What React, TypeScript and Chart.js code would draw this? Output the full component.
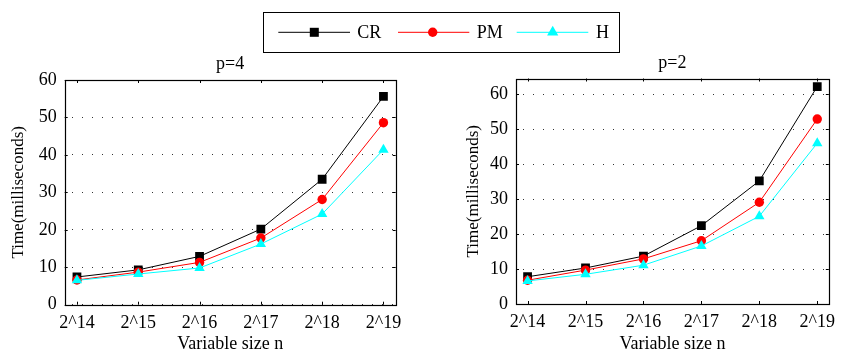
import React, { useEffect, useRef } from "react";
import { Chart, registerables } from "chart.js";

Chart.register(...registerables);

const FONT = "'Liberation Serif', 'Times New Roman', Times, serif";

const X_LABELS = ["2^14", "2^15", "2^16", "2^17", "2^18", "2^19"];
const SERIES_NAMES = ["CR", "PM", "H"];
const Y_TICKS = [0, 10, 20, 30, 40, 50, 60];

// p=4
const P4_CR = [7.4, 9.3, 12.9, 20.2, 33.5, 55.6];
const P4_PM = [6.6, 8.7, 11.3, 17.8, 28.1, 48.6];
const P4_H = [6.5, 8.2, 9.8, 16.2, 24.2, 41.4];

// p=2
const P2_CR = [7.8, 10.3, 13.7, 22.4, 35.2, 62.2];
const P2_PM = [6.8, 9.7, 12.9, 18.1, 29.1, 52.9];
const P2_H = [6.6, 8.5, 11.1, 16.6, 25.1, 46.0];

const COLORS = ["#000000", "#ff0000", "#00ffff"];
const STYLES = ["rect", "circle", "triangle"];
const RADII = [6.2, 4.7, 6];

Chart.defaults.font.family = FONT;

const framePlugin = {
  id: "frame",
  beforeDatasetsDraw(chart: any) {
    const { ctx, chartArea } = chart;
    const { left, right, top, bottom } = chartArea;
    const xs = chart.scales.x;
    const ys = chart.scales.y;
    ctx.save();
    ctx.strokeStyle = "#000";
    ctx.lineWidth = 1;
    ctx.beginPath();
    X_LABELS.forEach((_, i) => {
      const px = Math.round(xs.getPixelForValue(i)) + 0.5;
      ctx.moveTo(px, bottom);
      ctx.lineTo(px, bottom - 3);
      ctx.moveTo(px, top);
      ctx.lineTo(px, top + 3);
    });
    Y_TICKS.forEach((v) => {
      const py = Math.round(ys.getPixelForValue(v)) + 0.5;
      ctx.moveTo(left, py);
      ctx.lineTo(left + 3, py);
      ctx.moveTo(right, py);
      ctx.lineTo(right - 3, py);
    });
    ctx.stroke();
    ctx.lineWidth = 1.2;
    ctx.strokeRect(
      Math.round(left) + 0.5,
      Math.round(top) + 0.5,
      Math.round(right) - Math.round(left),
      Math.round(bottom) - Math.round(top)
    );
    ctx.restore();
  },
};

function makeConfig(
  title: string,
  series: number[][],
  yMax: number,
  o: {
    yWidth: number;
    xHeight: number;
    padRight: number;
    titleTop: number;
    titleBottom: number;
    yTitlePad: number;
  }
): any {
  return {
    type: "line",
    data: {
      datasets: series.map((vals, k) => ({
        label: SERIES_NAMES[k],
        data: vals.map((y, i) => ({ x: i, y })),
        borderColor: COLORS[k],
        backgroundColor: COLORS[k],
        borderWidth: 1,
        pointStyle: STYLES[k],
        pointRadius: RADII[k],
        pointBorderWidth: 0,
        pointBackgroundColor: COLORS[k],
        tension: 0,
        fill: false,
        order: 2 - k,
      })),
    },
    options: {
      responsive: false,
      animation: false,
      devicePixelRatio: 1,
      layout: { padding: { left: 0, right: o.padRight, top: 0, bottom: 0 } },
      plugins: {
        legend: { display: false },
        tooltip: { enabled: false },
        title: {
          display: true,
          text: title,
          fullSize: false,
          color: "#000",
          font: { family: FONT, size: 18, weight: "normal", lineHeight: 1 },
          padding: { top: o.titleTop, bottom: o.titleBottom },
        },
      },
      scales: {
        x: {
          type: "linear",
          min: -0.2,
          max: 5.2,
          afterBuildTicks: (s: any) => {
            s.ticks = X_LABELS.map((_, i) => ({ value: i }));
          },
          afterFit: (s: any) => {
            s.height = o.xHeight;
          },
          grid: { display: false, drawTicks: false },
          border: { display: false },
          ticks: {
            autoSkip: false,
            maxRotation: 0,
            padding: 7.5,
            color: "#000",
            font: { family: FONT, size: 18 },
            callback: (_v: any, idx: number) => X_LABELS[idx],
          },
          title: {
            display: true,
            text: "Variable size n",
            color: "#000",
            font: { family: FONT, size: 18, lineHeight: 1 },
            padding: { top: 0, bottom: 0 },
          },
        },
        y: {
          type: "linear",
          min: 0,
          max: yMax,
          afterBuildTicks: (s: any) => {
            s.ticks = Y_TICKS.map((v) => ({ value: v }));
          },
          afterFit: (s: any) => {
            s.width = o.yWidth;
          },
          grid: { color: "#333", lineWidth: 1, drawTicks: false },
          border: { display: false, dash: [1, 9], dashOffset: 3 },
          ticks: {
            padding: 8,
            color: "#000",
            font: { family: FONT, size: 18 },
          },
          title: {
            display: true,
            text: "Time(milliseconds)",
            color: "#000",
            font: { family: FONT, size: 17, lineHeight: 1 },
            padding: { top: o.yTitlePad, bottom: 0 },
          },
        },
      },
    },
    plugins: [framePlugin],
  };
}

function LineChart(props: { config: any; width: number; height: number; left: number; top: number }) {
  const ref = useRef<HTMLCanvasElement | null>(null);
  useEffect(() => {
    let chart: any = null;
    let cancelled = false;
    const create = () => {
      if (cancelled || !ref.current) return;
      chart = new Chart(ref.current, props.config);
    };
    const fonts: any = (document as any).fonts;
    if (fonts && fonts.load) {
      Promise.all([
        fonts.load("18px 'Liberation Serif'"),
        fonts.load("17px 'Liberation Serif'"),
      ])
        .then(create)
        .catch(create);
    } else {
      create();
    }
    return () => {
      cancelled = true;
      if (chart) chart.destroy();
    };
  }, []);
  return (
    <canvas
      ref={ref}
      width={props.width}
      height={props.height}
      style={{
        position: "absolute",
        left: props.left,
        top: props.top,
        width: props.width,
        height: props.height,
      }}
    />
  );
}

function Legend() {
  const items = [
    { x1: 278.3, x2: 350, mx: 314.3, tx: 357.3 },
    { x1: 398, x2: 469.3, mx: 432.7, tx: 476.7 },
    { x1: 516.7, x2: 588.3, mx: 552.7, tx: 596 },
  ];
  const cy = 32.3;
  return (
    <>
      <div
        style={{
          position: "absolute",
          left: 263,
          top: 12,
          width: 357,
          height: 41,
          boxSizing: "border-box",
          border: "1.3px solid #000",
        }}
      />
      <svg
        width={843}
        height={60}
        style={{ position: "absolute", left: 0, top: 0, pointerEvents: "none" }}
      >
        {items.map((it, k) => (
          <g key={k}>
            <line x1={it.x1} y1={cy} x2={it.x2} y2={cy} stroke={COLORS[k]} strokeWidth={1} />
            {k === 0 && <rect x={it.mx - 4.5} y={cy - 4.5} width={9} height={9} fill={COLORS[k]} />}
            {k === 1 && <circle cx={it.mx} cy={cy} r={4.7} fill={COLORS[k]} />}
            {k === 2 && (
              <polygon
                points={`${it.mx},${cy - 6.5} ${it.mx - 5.6},${cy + 3.3} ${it.mx + 5.6},${cy + 3.3}`}
                fill={COLORS[k]}
              />
            )}
          </g>
        ))}
      </svg>
      {items.map((it, k) => (
        <span
          key={k}
          style={{
            position: "absolute",
            left: it.tx,
            top: 23.1,
            fontFamily: FONT,
            fontSize: 18,
            lineHeight: "18px",
            color: "#000",
            whiteSpace: "nowrap",
          }}
        >
          {SERIES_NAMES[k]}
        </span>
      ))}
    </>
  );
}

export default function App() {
  const leftConfig = makeConfig("p=4", [P4_CR, P4_PM, P4_H], 60, {
    yWidth: 64.7,
    xHeight: 48.3,
    padRight: 24.3,
    titleTop: 15,
    titleBottom: 7,
    yTitlePad: 10.5,
  });
  const rightConfig = makeConfig("p=2", [P2_CR, P2_PM, P2_H], 64.5, {
    yWidth: 96,
    xHeight: 49,
    padRight: 3,
    titleTop: 14.3,
    titleBottom: 6.2,
    yTitlePad: 45.5,
  });
  return (
    <div
      style={{
        position: "fixed",
        left: 0,
        top: 0,
        width: 843,
        height: 353,
        background: "#fff",
        overflow: "hidden",
      }}
    >
      <LineChart config={leftConfig} width={420} height={313} left={0} top={40} />
      <LineChart config={rightConfig} width={423} height={313} left={420} top={40} />
      <Legend />
    </div>
  );
}
